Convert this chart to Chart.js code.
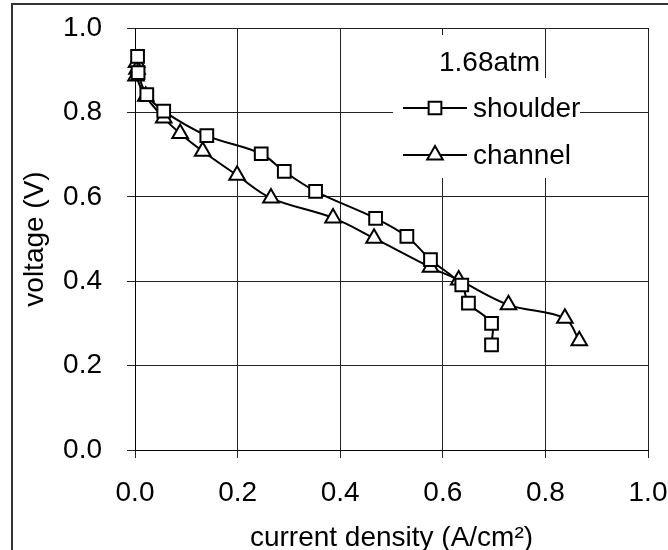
<!DOCTYPE html>
<html>
<head>
<meta charset="utf-8">
<script src="https://cdn.jsdelivr.net/npm/chart.js@4.4.0/dist/chart.umd.min.js"></script>
<style>
	body { margin: 0; background: #fff; }
	#wrap { width: 668px; height: 550px; }
</style>
</head>
<body>
<div id="wrap"><canvas id="myChart" width="668" height="550"></canvas></div>
<script>
// values
const shoulderX = [0.005, 0.006, 0.023, 0.056, 0.140, 0.246, 0.291, 0.352, 0.469, 0.530, 0.576, 0.637, 0.650, 0.695, 0.695];
const shoulderY = [0.933, 0.894, 0.842, 0.803, 0.745, 0.702, 0.660, 0.613, 0.549, 0.506, 0.451, 0.391, 0.348, 0.300, 0.249];
const channelX = [0.003, 0.004, 0.002, 0.021, 0.056, 0.088, 0.132, 0.199, 0.265, 0.386, 0.466, 0.576, 0.631, 0.728, 0.838, 0.866];
const channelY = [0.918, 0.902, 0.886, 0.838, 0.787, 0.750, 0.708, 0.651, 0.597, 0.550, 0.502, 0.433, 0.403, 0.344, 0.312, 0.259];
const seriesNames = ["shoulder", "channel"];
const legendTitle = "1.68atm";
const xTitle = "current density (A/cm²)";
const yTitle = "voltage (V)";

const FONT = "'Liberation Sans', Arial, sans-serif";

function pts(xs, ys){
	return xs.map(function(x, i){ return {x: x, y: ys[i]}; });
}

// white boxes + legend drawn inside the plot, like the excel text boxes
const boxLegend = {
	id: 'boxLegend',
	beforeDatasetsDraw(chart){
		const ctx = chart.ctx;
		ctx.save();
		ctx.fillStyle = "#fff";
		ctx.fillRect(420, 35, 123, 43);
		ctx.fillRect(393, 78, 187, 100);
		ctx.fillStyle = "#000";
		ctx.font = "28px " + FONT;
		ctx.textBaseline = "middle";
		ctx.textAlign = "left";
		ctx.fillText(legendTitle, 439, 63);
		const rows = [108, 155];
		chart.data.datasets.forEach(function(ds, i){
			const y = rows[i];
			ctx.strokeStyle = ds.borderColor;
			ctx.lineWidth = 2;
			ctx.beginPath();
			ctx.moveTo(403, y);
			ctx.lineTo(467, y);
			ctx.stroke();
			ctx.fillStyle = ds.pointBackgroundColor;
			ctx.strokeStyle = ds.pointBorderColor;
			ctx.lineWidth = ds.pointBorderWidth;
			Chart.helpers.drawPoint(ctx, {pointStyle: ds.pointStyle, radius: ds.pointRadius, borderWidth: ds.pointBorderWidth}, 435, y);
			ctx.fillStyle = "#000";
			ctx.fillText(ds.label, 473, y + 1);
		});
		ctx.restore();
	},
	afterDraw(chart){
		const ctx = chart.ctx;
		ctx.save();
		ctx.strokeStyle = "#333";
		ctx.lineWidth = 2;
		ctx.beginPath();
		ctx.moveTo(12, 560);
		ctx.lineTo(12, 4);
		ctx.lineTo(680, 4);
		ctx.stroke();
		ctx.restore();
	}
};

const ctx = document.getElementById('myChart');
const chart = new Chart(ctx, {
	type: 'scatter',
	data: {
		datasets: [{
			label: seriesNames[0],
			data: pts(shoulderX, shoulderY),
			showLine: true,
			clip: false,
			tension: 0.35,
			borderColor: "#000",
			borderWidth: 2,
			pointStyle: 'rect',
			pointRadius: 9,
			pointBorderWidth: 2,
			pointBorderColor: "#000",
			pointBackgroundColor: "#fff",
		}, {
			label: seriesNames[1],
			data: pts(channelX, channelY),
			showLine: true,
			clip: false,
			tension: 0.35,
			borderColor: "#000",
			borderWidth: 2,
			pointStyle: 'triangle',
			pointRadius: 9,
			pointBorderWidth: 2,
			pointBorderColor: "#000",
			pointBackgroundColor: "#fff",
		}]
	},
	options: {
		responsive: false,
		animation: false,
		layout: { padding: { left: 0, right: 20, top: 28, bottom: 0 } },
		plugins: {
			legend: { display: false },
			tooltip: { enabled: false }
		},
		scales: {
			x: {
				type: 'linear',
				min: 0, max: 1,
				afterFit: function(s){
					s.height = 100;
					s.paddingLeft = 0;
					s.paddingRight = 0;
				},
				ticks: {
					stepSize: 0.2,
					color: "#000",
					padding: 18,
					font: { family: FONT, size: 28 },
					callback: function(v){ return v.toFixed(1); }
				},
				grid: { color: "#222", lineWidth: 1, tickLength: 8 },
				border: { color: "#000", width: 1 },
				title: {
					display: true,
					text: xTitle,
					color: "#000",
					font: { family: FONT, size: 28, lineHeight: 0.85 },
					padding: { top: 0, bottom: 0 }
				}
			},
			y: {
				type: 'linear',
				min: 0, max: 1,
				afterFit: function(s){
					s.width = 135;
					s.paddingTop = 0;
					s.paddingBottom = 0;
				},
				ticks: {
					stepSize: 0.2,
					color: "#000",
					padding: 25,
					font: { family: FONT, size: 28 },
					callback: function(v){ return v.toFixed(1); }
				},
				grid: { color: "#222", lineWidth: 1, tickLength: 8 },
				border: { color: "#000", width: 1 },
				title: {
					display: true,
					text: yTitle,
					color: "#000",
					font: { family: FONT, size: 28 },
					padding: { top: 18, bottom: 0 }
				}
			}
		}
	},
	plugins: [boxLegend]
});
</script>
</body>
</html>
